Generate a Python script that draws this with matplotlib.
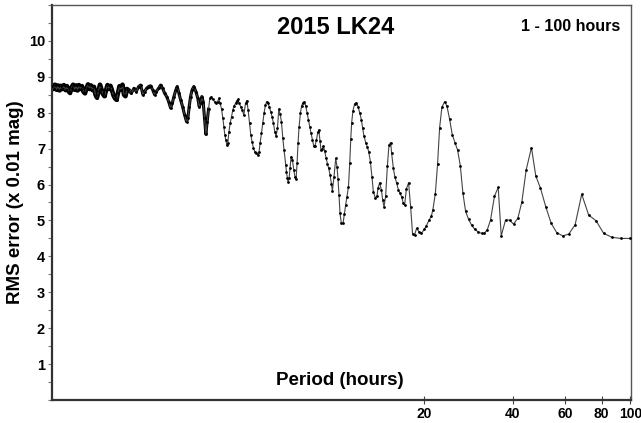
import matplotlib
matplotlib.use("Agg")
import matplotlib.pyplot as plt
from matplotlib.ticker import FixedLocator, MultipleLocator, NullLocator, FixedFormatter

plt.rcParams['font.family'] = ['Liberation Sans', 'DejaVu Sans']
plt.rcParams['font.weight'] = 'bold'

# period scan, dense part (1.1 - 2 h)
period_a = [1.106, 1.119, 1.132, 1.146, 1.159, 1.173, 1.186, 1.200, 1.214, 1.229,
            1.243, 1.258, 1.273, 1.288, 1.303, 1.318, 1.334, 1.349, 1.365, 1.381,
            1.397, 1.414, 1.430, 1.447, 1.464, 1.481, 1.499, 1.516, 1.534, 1.552,
            1.570, 1.589, 1.607, 1.626, 1.645, 1.665, 1.684, 1.704, 1.724, 1.744,
            1.765, 1.786, 1.807, 1.828, 1.849, 1.871, 1.893, 1.915, 1.938, 1.960,
            1.983]
rms_a = [8.74, 8.66, 8.78, 8.64, 8.76, 8.62, 8.75, 8.66, 8.77, 8.63,
         8.74, 8.60, 8.55, 8.70, 8.78, 8.64, 8.76, 8.62, 8.77, 8.66,
         8.74, 8.58, 8.54, 8.68, 8.79, 8.66, 8.76, 8.63, 8.72, 8.50,
         8.42, 8.60, 8.78, 8.65, 8.52, 8.46, 8.62, 8.77, 8.66, 8.75,
         8.62, 8.48, 8.40, 8.36, 8.55, 8.74, 8.64, 8.78, 8.50, 8.46,
         8.66]

# 2 - 6.5 h
period_b = [1.998, 2.050, 2.094, 2.132, 2.172, 2.206, 2.246, 2.276, 2.311, 2.348,
            2.384, 2.422, 2.460, 2.491, 2.538, 2.577, 2.618, 2.659, 2.701, 2.743,
            2.786, 2.821, 2.858, 2.903, 2.933, 2.972, 3.011, 3.058, 3.106, 3.155,
            3.187, 3.219, 3.254, 3.295, 3.339, 3.391, 3.444, 3.479, 3.517, 3.553,
            3.589, 3.628, 3.665, 3.703, 3.743, 3.781, 3.820, 3.870, 3.922, 3.972,
            4.015, 4.056, 4.097, 4.142, 4.184, 4.217, 4.250, 4.283, 4.316, 4.350,
            4.384, 4.429, 4.477, 4.522, 4.568, 4.618, 4.665, 4.713, 4.750, 4.813,
            4.862, 4.927, 4.992, 5.043, 5.094, 5.150, 5.202, 5.255, 5.312, 5.366,
            5.438, 5.506, 5.549, 5.591, 5.653, 5.710, 5.768, 5.831, 5.891, 5.951,
            6.016, 6.077, 6.139, 6.206, 6.270, 6.334, 6.403]
rms_b = [8.64, 8.54, 8.68, 8.59, 8.73, 8.77, 8.50, 8.59, 8.68, 8.73,
         8.75, 8.64, 8.50, 8.59, 8.68, 8.77, 8.68, 8.54, 8.45, 8.31,
         8.13, 8.26, 8.45, 8.64, 8.73, 8.54, 8.36, 8.17, 7.94, 7.75,
         7.85, 8.17, 8.45, 8.64, 8.73, 8.59, 8.40, 8.17, 8.26, 8.45,
         8.31, 7.85, 7.40, 7.75, 8.10, 8.40, 8.45, 8.37, 8.31, 8.26,
         8.31, 8.40, 8.26, 8.10, 7.85, 7.61, 7.38, 7.24, 7.10, 7.15,
         7.45, 7.71, 7.89, 8.08, 8.19, 8.26, 8.34, 8.37, 8.26, 8.17,
         8.08, 7.94, 8.26, 8.34, 8.08, 7.71, 7.38, 7.19, 7.01, 6.92,
         6.89, 6.82, 6.92, 7.15, 7.43, 7.71, 7.99, 8.22, 8.31, 8.26,
         8.15, 8.03, 7.89, 7.71, 7.47, 7.35, 7.57]

# 6.5 - 20 h
period_c = [6.468, 6.534, 6.605, 6.673, 6.741, 6.830, 6.867, 6.921, 6.953, 7.007,
            7.063, 7.118, 7.195, 7.269, 7.343, 7.401, 7.458, 7.516, 7.575, 7.657,
            7.735, 7.813, 7.898, 7.979, 8.060, 8.148, 8.231, 8.315, 8.408, 8.493,
            8.578, 8.673, 8.761, 8.829, 8.918, 8.988, 9.086, 9.157, 9.251, 9.346,
            9.447, 9.544, 9.641, 9.748, 9.822, 9.945, 10.08, 10.18, 10.26, 10.34,
            10.42, 10.53, 10.67, 10.78, 10.89, 11.00, 11.13, 11.24, 11.33, 11.41,
            11.53, 11.68, 11.84, 11.99, 12.15, 12.31, 12.43, 12.56, 12.73, 12.90,
            13.03, 13.20, 13.37, 13.51, 13.73, 13.90, 14.01, 14.19, 14.38, 14.53,
            14.68, 14.87, 15.07, 15.26, 15.46, 15.58, 15.79, 15.99, 16.20, 16.42,
            16.62, 16.84, 17.06, 17.24, 17.47, 17.78, 18.06, 18.34, 18.63, 18.92,
            19.27, 19.63]
rms_c = [8.10, 7.97, 7.75, 7.30, 6.95, 6.55, 6.35, 6.17, 6.07, 6.17,
         6.45, 6.78, 6.69, 6.41, 6.20, 6.15, 6.59, 7.15, 7.60, 8.00,
         8.20, 8.28, 8.31, 8.19, 8.00, 7.80, 7.60, 7.43, 7.24, 7.08,
         7.08, 7.24, 7.45, 7.52, 7.22, 6.95, 7.00, 7.08, 6.93, 6.75,
         6.58, 6.45, 6.27, 6.02, 5.82, 6.22, 6.73, 6.50, 6.15, 5.71,
         5.20, 4.92, 4.92, 5.18, 5.43, 5.66, 5.94, 6.59, 7.26, 7.72,
         8.06, 8.25, 8.28, 8.17, 8.00, 7.80, 7.57, 7.35, 7.17, 7.04,
         6.92, 6.64, 6.20, 5.80, 5.62, 5.68, 5.90, 6.05, 5.85, 5.57,
         5.38, 5.68, 6.52, 7.10, 7.17, 6.87, 6.45, 6.20, 6.04, 5.85,
         5.76, 5.66, 5.48, 5.43, 5.87, 6.05, 5.38, 4.62, 4.60, 4.78,
         4.69, 4.64]

# 20 - 100 h
period_d = [20.09, 20.41, 20.83, 21.22, 21.48, 21.89, 22.28, 22.63, 23.04, 23.53,
            23.96, 24.47, 24.99, 25.50, 26.04, 26.60, 27.14, 27.72, 28.37, 29.03,
            29.79, 30.59, 31.38, 32.05, 32.81, 33.65, 34.71, 35.73, 36.58, 37.82,
            39.02, 40.25, 41.63, 42.94, 44.43, 46.29, 47.87, 49.65, 51.75, 53.97,
            56.36, 59.06, 61.88, 65.04, 68.46, 72.29, 76.57, 81.24, 86.75, 92.73,
            100.0]
rms_d = [4.75, 4.85, 5.00, 5.12, 5.30, 5.74, 6.57, 7.57, 8.15, 8.31,
         8.19, 7.82, 7.38, 7.17, 6.96, 6.52, 5.76, 5.25, 5.03, 4.87,
         4.75, 4.68, 4.64, 4.64, 4.74, 5.01, 5.68, 5.92, 4.57, 5.01,
         5.01, 4.90, 5.06, 5.51, 6.41, 7.03, 6.24, 5.90, 5.38, 4.92,
         4.66, 4.57, 4.62, 4.88, 5.73, 5.15, 4.99, 4.64, 4.53, 4.50,
         4.50]

period = period_a + period_b + period_c + period_d
rms = rms_a + rms_b + rms_c + rms_d

x_ticks = [20, 40, 60, 80, 100]
y_ticks = [1, 2, 3, 4, 5, 6, 7, 8, 9, 10]

fig = plt.figure(figsize=(6.41, 4.23), dpi=100)
ax = fig.add_axes([52/641, 1 - 400/423, 579/641, 395/423])

# dense short-period part reads as a thick band in the original
ax.plot(period_a + period_b[:1], rms_a + rms_b[:1], '-', color='black', linewidth=3.3,
        zorder=2)
ax.plot(period_b[:45], rms_b[:45], '-', color='black', linewidth=2.2, zorder=2)
ax.plot(period, rms, '-', color='#444444', linewidth=0.8, zorder=2)
ax.plot(period, rms, 'o', color='black', markersize=2.0, markeredgewidth=0, zorder=3)

ax.set_xscale('log')
ax.set_xlim(1.106, 100.5)
ax.set_ylim(0, 11)

ax.xaxis.set_major_locator(FixedLocator(x_ticks))
ax.xaxis.set_major_formatter(FixedFormatter([str(t) for t in x_ticks]))
ax.xaxis.set_minor_locator(NullLocator())
ax.yaxis.set_major_locator(FixedLocator(y_ticks))
ax.yaxis.set_minor_locator(MultipleLocator(0.5))

ax.tick_params(axis='x', which='major', direction='inout', length=6, width=0.8,
               color='#444444', labelsize=10, pad=2)
ax.tick_params(axis='y', which='both', direction='out', length=3, width=0.8,
               color='#777777', labelsize=10.5, pad=2)
for lab in ax.get_xticklabels() + ax.get_yticklabels():
    lab.set_fontweight('bold')

for side in ['left', 'bottom']:
    ax.spines[side].set_linewidth(1.6)
    ax.spines[side].set_color('#333333')
for side in ['top', 'right']:
    ax.spines[side].set_linewidth(1.0)
    ax.spines[side].set_color('#555555')

ax.text(0.489, 0.942, '2015 LK24', transform=ax.transAxes, ha='center', va='center',
        fontsize=17, fontweight='bold')
ax.text(0.895, 0.945, '1 - 100 hours', transform=ax.transAxes, ha='center', va='center',
        fontsize=11.5, fontweight='bold')
ax.text(0.497, 0.05, 'Period (hours)', transform=ax.transAxes, ha='center', va='center',
        fontsize=13.5, fontweight='bold')
fig.text(16/641, 1 - 202/423, 'RMS error (x 0.01 mag)', rotation=90, ha='center', va='center',
         fontsize=13.5, fontweight='bold')

fig.savefig('out.png', dpi=100)
